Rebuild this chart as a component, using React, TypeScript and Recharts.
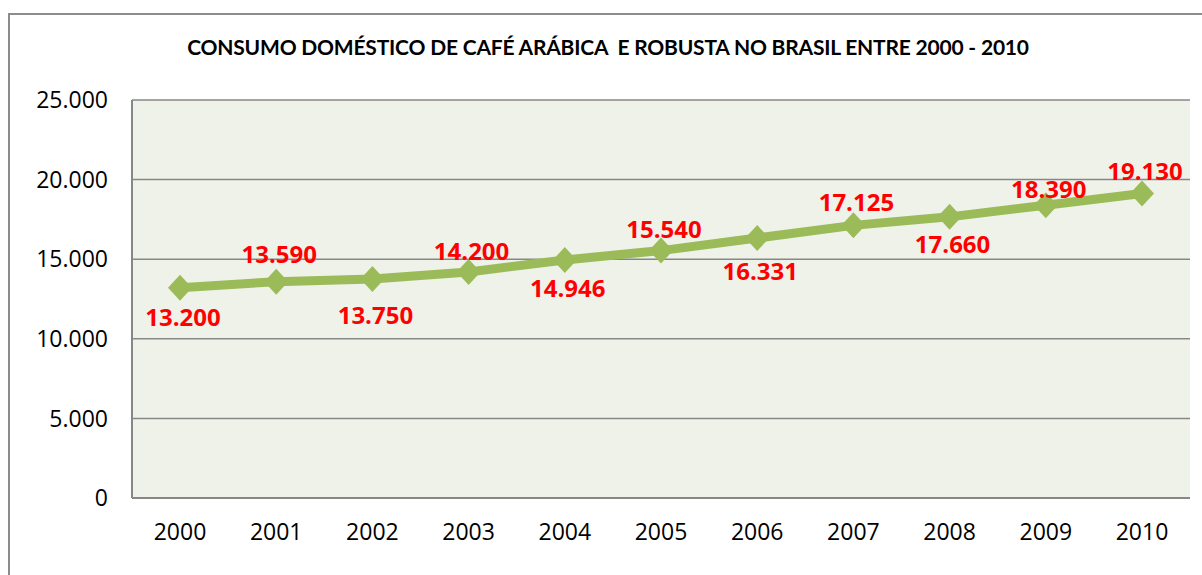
import { LineChart, Line, XAxis, YAxis, CartesianGrid, LabelList } from 'recharts';

const years = ['2000', '2001', '2002', '2003', '2004', '2005', '2006', '2007', '2008', '2009', '2010'];
const consumo = [13200, 13590, 13750, 14200, 14946, 15540, 16331, 17125, 17660, 18390, 19130];
const yTicks = [0, 5000, 10000, 15000, 20000, 25000];

// vertical placement of each data label (px from the marker), as placed by hand in the original
const labelDy = [29, -28, 35, -21, 27, -22, 32, -24, 27, -17, -23];

const data = years.map((ano, i) => ({ ano, valor: consumo[i] }));

const fmt = (v: number) => v.toLocaleString('de-DE');

function Diamond(props: any) {
  const { cx, cy } = props;
  if (cx == null || cy == null) return null;
  const r = 13;
  return (
    <polygon
      points={`${cx},${cy - r} ${cx + r - 1},${cy} ${cx},${cy + r} ${cx - r + 1},${cy}`}
      fill="#9BBB59"
    />
  );
}

function ValueLabel(props: any) {
  const { x, y, value, index } = props;
  return (
    <text
      x={x + 3}
      y={y + labelDy[index]}
      textAnchor="middle"
      dominantBaseline="central"
      fill="#FF0000"
      fontFamily="Open Sans"
      fontWeight="bold"
      fontSize={24}
    >
      {fmt(value)}
    </text>
  );
}

export default function App() {
  return (
    <div
      style={{
        position: 'absolute',
        left: 8,
        top: 13,
        width: 1200,
        height: 570,
        border: '2px solid #8C8C8C',
        background: '#fff',
        boxSizing: 'border-box',
      }}
    >
      <div
        style={{
          position: 'absolute',
          left: 0,
          width: 1196,
          top: 19,
          textAlign: 'center',
          fontFamily: 'Lato',
          fontWeight: 'bold',
          fontSize: 21,
          letterSpacing: -0.2,
          color: '#000',
        }}
      >
        CONSUMO DOMÉSTICO DE CAFÉ ARÁBICA&nbsp; E ROBUSTA NO BRASIL ENTRE 2000 - 2010
      </div>
      <LineChart
        width={1190}
        height={560}
        data={data}
        margin={{ top: 85, right: 10, left: 0, bottom: 17 }}
      >
        <CartesianGrid vertical={false} stroke="#878787" strokeWidth={1.5} fill="#EFF2E9" />
        <XAxis
          dataKey="ano"
          padding={{ left: 48, right: 48 }}
          height={60}
          axisLine={{ stroke: '#878787', strokeWidth: 2 }}
          tickLine={false}
          tick={{ fill: '#000', fontFamily: 'Open Sans', fontSize: 23 }}
          dy={18}
        />
        <YAxis
          domain={[0, 25000]}
          ticks={yTicks}
          width={122}
          tickFormatter={fmt}
          axisLine={{ stroke: '#878787', strokeWidth: 2 }}
          tickLine={false}
          tick={{ fill: '#000', fontFamily: 'Open Sans', fontSize: 23 }}
          dx={-16}
        />
        <Line
          type="linear"
          dataKey="valor"
          stroke="#9BBB59"
          strokeWidth={9}
          dot={<Diamond />}
          activeDot={false}
          isAnimationActive={false}
        >
          <LabelList dataKey="valor" content={<ValueLabel />} />
        </Line>
      </LineChart>
    </div>
  );
}
